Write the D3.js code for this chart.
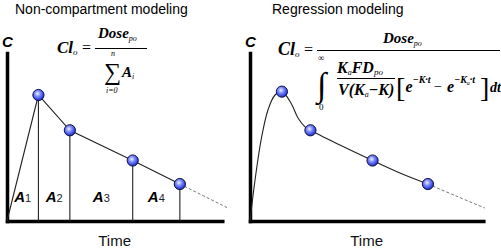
<!DOCTYPE html>
<html>
<head>
<meta charset="utf-8">
<script src="https://cdn.jsdelivr.net/npm/d3@7"></script>
<style>
body { margin: 0; background: #fff; }
svg { display: block; }
</style>
</head>
<body>
<svg width="501" height="248"></svg>
<script>
// values (time, concentration in arbitrary units)
const ncTime = [2, 4, 8, 11]
const ncConc = [7.5, 5.4, 3.6, 2.2]
const ncTail = [14, 0.8]
const areaLabels = ['1', '2', '3', '4']

const regTime = [1.9, 3.6, 7.3, 10.6]
const regConc = [7.7, 5.4, 3.6, 2.2]
const fitTime = [0, 0.3, 0.66, 1.07, 1.49, 1.9, 2.44, 2.86, 3.28, 3.6, 5.36, 7.3, 8.93, 10.6]
const fitConc = [0, 2.44, 4.82, 6.61, 7.5, 7.7, 7.02, 6.13, 5.6, 5.4, 4.52, 3.6, 2.86, 2.2]
const tailTime = [10.6, 12.27, 14]
const tailConc = [2.2, 1.49, 0.77]

const titles = ['Non-compartment modeling', 'Regression modeling']
const xLabel = 'Time'
const yLabel = 'C'

const svg = d3.select('svg')
const width = +svg.attr('width')
const height = +svg.attr('height')

const serif = 'Liberation Serif, Times New Roman, serif'
const sans = 'Liberation Sans, Arial, sans-serif'

const defs = svg.append('defs')
const grad = defs.append('radialGradient').attr('id', 'ball')
	.attr('cx', '42%').attr('cy', '38%').attr('r', '60%')
grad.append('stop').attr('offset', '0%').attr('stop-color', '#eef0ff')
grad.append('stop').attr('offset', '45%').attr('stop-color', '#7787ff')
grad.append('stop').attr('offset', '100%').attr('stop-color', '#1f2fd0')

const y = d3.scaleLinear().domain([0, 10]).range([221, 53])

const drawPanel = (x, axisEnd, title, titleX) => {
	const g = svg.append('g')

	const xAxis = d3.axisBottom(x.copy().domain([0, axisEnd]).range([x(0), x(axisEnd)]))
		.tickValues([]).tickSizeOuter(0)
	const yAxis = d3.axisLeft(y).tickValues([]).tickSizeOuter(0)

	g.append('g').attr('transform', `translate(0, ${y(0)})`).call(xAxis)
		.select('.domain').attr('stroke', '#000').attr('stroke-width', 3.5).attr('stroke-linecap', 'square')
	g.append('g').attr('transform', `translate(${x(0)}, 0)`).call(yAxis)
		.select('.domain').attr('stroke', '#000').attr('stroke-width', 3.5).attr('stroke-linecap', 'square')

	g.append('text').attr('x', titleX).attr('y', 14)
		.attr('font-family', sans).attr('font-size', 14).attr('fill', '#000')
		.text(title)

	g.append('text').attr('x', x(0) - 5).attr('y', 47)
		.attr('font-family', sans).attr('font-size', 15).attr('font-weight', 'bold').attr('font-style', 'italic')
		.text(yLabel)

	g.append('text').attr('x', x(0) + (x(axisEnd) - x(0)) / 2).attr('y', 246)
		.attr('text-anchor', 'middle')
		.attr('font-family', sans).attr('font-size', 15).attr('fill', '#111')
		.text(xLabel)
	return g
}

const drawBalls = (g, x, ts, cs) => {
	g.selectAll('circle.pt').data(ts.map((t, i) => [t, cs[i]]))
		.enter().append('circle').attr('class', 'pt')
		.attr('cx', d => x(d[0]))
		.attr('cy', d => y(d[1]))
		.attr('r', 5.6)
		.attr('fill', 'url(#ball)')
		.attr('stroke', '#101040')
		.attr('stroke-width', 1)
}

const bi = (t, s, txt) => t.append('tspan').attr('font-size', s).attr('font-weight', 'bold').attr('font-style', 'italic').text(txt)
const it = (t, s, txt, dy) => t.append('tspan').attr('font-size', s).attr('font-style', 'italic').attr('dy', dy).text(txt)

// ---- left panel: non-compartment
const xL = d3.scaleLinear().domain([0, 14]).range([7, 227])
const left = drawPanel(xL, 13.7, titles[0], 15)

const ncPts = [[0, 0]].concat(ncTime.map((t, i) => [t, ncConc[i]]))
const lineL = d3.line().x(d => xL(d[0])).y(d => y(d[1]))

left.selectAll('line.drop').data(ncPts.slice(1))
	.enter().append('line')
	.attr('x1', d => xL(d[0])).attr('x2', d => xL(d[0]))
	.attr('y1', d => y(d[1])).attr('y2', y(0))
	.attr('stroke', '#222').attr('stroke-width', 1.1)

left.append('path').attr('d', lineL(ncPts))
	.attr('fill', 'none').attr('stroke', '#222').attr('stroke-width', 1.1)
left.append('path').attr('d', lineL([ncPts[ncPts.length - 1], ncTail]))
	.attr('fill', 'none').attr('stroke', '#777').attr('stroke-width', 1)
	.attr('stroke-dasharray', '3,2')

const mids = ncPts.slice(1).map((d, i) => (ncPts[i][0] + d[0]) / 2)
left.selectAll('text.area').data(areaLabels)
	.enter().append('text')
	.attr('x', (d, i) => xL(mids[i]))
	.attr('y', 202)
	.attr('text-anchor', 'middle')
	.attr('font-family', sans)
	.each(function (d) {
		const t = d3.select(this)
		t.append('tspan').attr('font-size', 15).attr('font-weight', 'bold').attr('font-style', 'italic').text('A')
		t.append('tspan').attr('font-size', 11).attr('fill', '#222').text(d)
	})

drawBalls(left, xL, ncTime, ncConc)

// left formula
const f1 = left.append('g').attr('font-family', serif)
f1.append('text').attr('x', 57).attr('y', 53)
	.call(t => { bi(t, 17, 'Cl'); it(t, 9, 'o', 2) })
f1.append('text').attr('x', 82).attr('y', 53).attr('font-size', 16).text('=')
f1.append('line').attr('x1', 95).attr('x2', 147).attr('y1', 48.5).attr('y2', 48.5)
	.attr('stroke', '#000').attr('stroke-width', 1)
f1.append('text').attr('x', 98).attr('y', 38)
	.call(t => { bi(t, 15, 'Dose'); it(t, 8, 'po', 3) })
f1.append('text').attr('x', 104).attr('y', 80).attr('font-size', 24).text('\u2211')
f1.append('text').attr('x', 111).attr('y', 56).attr('font-size', 8).attr('font-style', 'italic').text('n')
f1.append('text').attr('x', 106).attr('y', 92.5).attr('font-size', 8).attr('font-style', 'italic').text('i=0')
f1.append('text').attr('x', 122).attr('y', 77)
	.call(t => { bi(t, 15, 'A'); it(t, 8, 'i', 2) })

// ---- right panel: regression
const xR = d3.scaleLinear().domain([0, 14]).range([250, 485])
const right = drawPanel(xR, 13.9, titles[1], 272)

const lineR = d3.line().x(d => xR(d[0])).y(d => y(d[1])).curve(d3.curveCatmullRom.alpha(0.5))
right.append('path').attr('d', lineR(fitTime.map((t, i) => [t, fitConc[i]])))
	.attr('fill', 'none').attr('stroke', '#222').attr('stroke-width', 1.1)
right.append('path').attr('d', lineR(tailTime.map((t, i) => [t, tailConc[i]])))
	.attr('fill', 'none').attr('stroke', '#777').attr('stroke-width', 1)
	.attr('stroke-dasharray', '3,2')

drawBalls(right, xR, regTime, regConc)

// right formula
const f2 = right.append('g').attr('font-family', serif)
f2.append('text').attr('x', 278).attr('y', 55)
	.call(t => { bi(t, 18, 'Cl'); it(t, 9, 'o', 2) })
f2.append('text').attr('x', 304).attr('y', 55).attr('font-size', 16).text('=')
f2.append('line').attr('x1', 317).attr('x2', 500).attr('y1', 50.5).attr('y2', 50.5)
	.attr('stroke', '#000').attr('stroke-width', 1)
f2.append('text').attr('x', 383).attr('y', 43)
	.call(t => { bi(t, 15, 'Dose'); it(t, 8, 'po', 3) })
f2.append('text').attr('x', 317).attr('y', 96).attr('font-size', 34).text('\u222B')
f2.append('text').attr('x', 318).attr('y', 61).attr('font-size', 9).text('\u221E')
f2.append('text').attr('x', 319).attr('y', 110).attr('font-size', 9).text('0')
f2.append('text').attr('x', 337).attr('y', 73)
	.call(t => { bi(t, 16, 'K'); it(t, 8, 'a', 2); bi(t, 16, 'FD').attr('dy', -2); it(t, 9, 'po', 2) })
f2.append('line').attr('x1', 337).attr('x2', 395).attr('y1', 78.5).attr('y2', 78.5)
	.attr('stroke', '#000').attr('stroke-width', 1)
f2.append('text').attr('x', 338).attr('y', 95)
	.call(t => { bi(t, 16, 'V(K'); it(t, 8, 'a', 2); bi(t, 16, '\u2212K)').attr('dy', -2) })
f2.append('text').attr('x', 396).attr('y', 97).attr('font-size', 28).text('[')
f2.append('text').attr('x', 405.5).attr('y', 92)
	.call(t => { bi(t, 16, 'e'); bi(t, 10, '\u2212K\u00B7t').attr('dy', -9) })
f2.append('text').attr('x', 434).attr('y', 91).attr('font-size', 14).text('\u2212')
f2.append('text').attr('x', 447).attr('y', 92)
	.call(t => { bi(t, 16, 'e'); bi(t, 10, '\u2212K').attr('dy', -9); it(t, 6, 'a', 2); bi(t, 10, '\u00B7t').attr('dy', -2) })
f2.append('text').attr('x', 480).attr('y', 97).attr('font-size', 28).text(']')
f2.append('text').attr('x', 490).attr('y', 92)
	.call(t => bi(t, 14, 'dt'))
</script>
</body>
</html>
